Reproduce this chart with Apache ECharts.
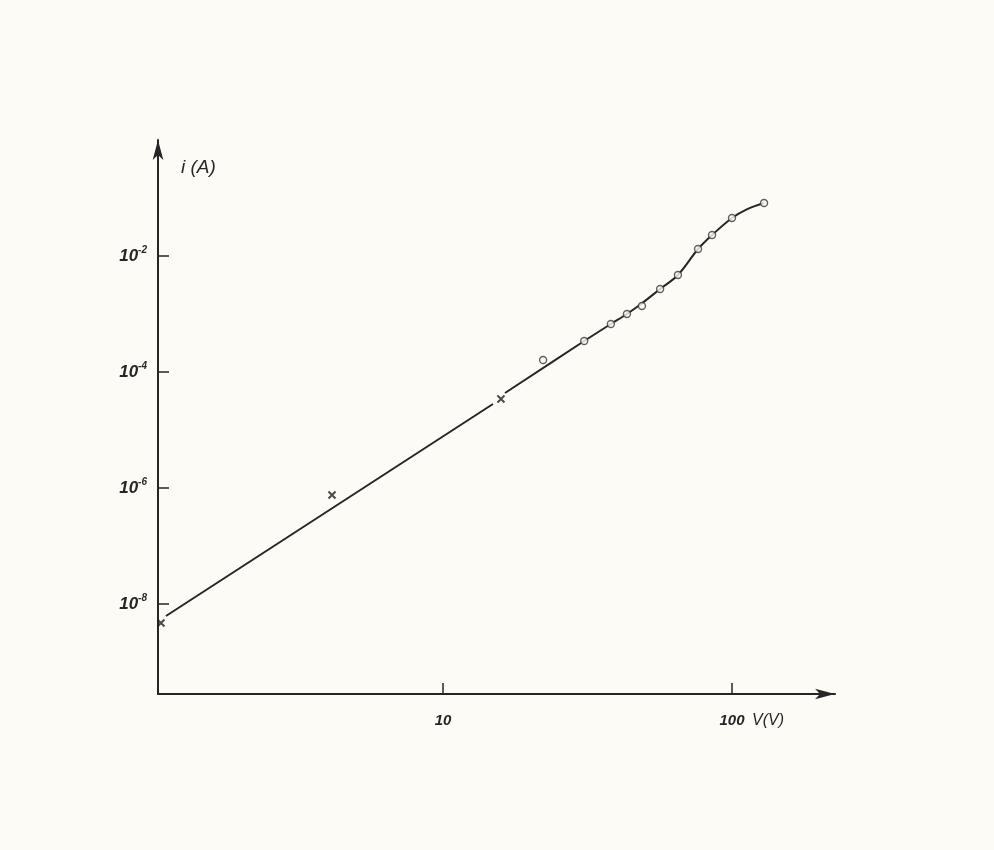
<!DOCTYPE html>
<html>
<head>
<meta charset="utf-8">
<script src="https://cdn.jsdelivr.net/npm/echarts@6/dist/echarts.min.js"></script>
<style>
html,body{margin:0;padding:0;background:#fcfbf6;}
#c{width:994px;height:850px;}
</style>
</head>
<body>
<div id="c"></div>
<script>
// Tick values
var xTicks = [10, 100];
var yTicks = [1e-8, 1e-6, 1e-4, 1e-2];

// Measured points: crosses
var crossV = [1.057, 4.13, 15.87];
var crossI = [4.70e-9, 7.57e-7, 3.42e-5];

// Measured points: circles
var circleV = [22.2, 30.8, 38.1, 43.3, 48.8, 56.4, 65.0, 76.3, 85.3, 100, 129.1];
var circleI = [1.61e-4, 3.42e-4, 6.73e-4, 1.0e-3, 1.37e-3, 2.70e-3, 4.70e-3, 1.32e-2, 2.30e-2, 4.52e-2, 8.20e-2];

// Drawn curve (straight part, gap, then curve through circles)
var lineV1 = [1.100, 14.89];
var lineI1 = [6.21e-9, 2.81e-5];
var lineV2 = [16.39, 30.8, 38.1, 43.3, 48.8, 56.4, 65.0, 76.3, 85.3, 100, 112.5, 129.1];
var lineI2 = [4.35e-5, 3.42e-4, 6.73e-4, 1.0e-3, 1.53e-3, 2.70e-3, 4.70e-3, 1.32e-2, 2.30e-2, 4.52e-2, 6.38e-2, 8.20e-2];

function zip(a, b) { return a.map(function (v, i) { return [v, b[i]]; }); }

var ink = '#262626';
var chart = echarts.init(document.getElementById('c'));
chart.setOption({
  backgroundColor: '#fcfbf6',
  animation: false,
  grid: { left: 158, top: 140, right: 159, bottom: 156, containLabel: false },
  xAxis: {
    type: 'log',
    logBase: 10,
    min: 1.0324,
    max: 227.2,
    name: 'V(V)',
    nameLocation: 'end',
    nameGap: -83,
    nameTextStyle: { fontFamily: 'Liberation Sans', fontStyle: 'italic', fontSize: 16, color: ink, align: 'left', verticalAlign: 'top', padding: [19, 0, 0, 0] },
    axisLine: { show: true, onZero: false, symbol: ['none', 'arrow'], symbolSize: [8, 20], lineStyle: { color: ink, width: 2 } },
    axisTick: { show: true, inside: true, length: 11, customValues: xTicks, lineStyle: { color: ink, width: 1.5 } },
    axisLabel: { show: true, customValues: xTicks, margin: 19, fontFamily: 'Liberation Sans', fontStyle: 'italic', fontWeight: 'bold', fontSize: 15, color: ink },
    splitLine: { show: false },
    minorTick: { show: false }
  },
  yAxis: {
    type: 'log',
    logBase: 10,
    min: 2.806e-10,
    max: 1,
    name: 'i (A)',
    nameLocation: 'end',
    nameGap: -28,
    nameTextStyle: { fontFamily: 'Liberation Sans', fontStyle: 'italic', fontSize: 19, color: ink, align: 'left', verticalAlign: 'middle', padding: [0, 0, 0, 23] },
    axisLine: { show: true, onZero: false, symbol: ['none', 'arrow'], symbolSize: [8, 20], lineStyle: { color: ink, width: 2 } },
    axisTick: { show: true, inside: true, length: 11, customValues: yTicks, lineStyle: { color: ink, width: 1.5 } },
    axisLabel: {
      show: true,
      customValues: yTicks,
      margin: 11,
      formatter: function (v) { return '{b|10}{s|' + Math.round(Math.log10(v)) + '}'; },
      rich: {
        b: { fontFamily: 'Liberation Sans', fontStyle: 'italic', fontWeight: 'bold', fontSize: 17, color: ink },
        s: { fontFamily: 'Liberation Sans', fontStyle: 'italic', fontWeight: 'bold', fontSize: 10, color: ink, verticalAlign: 'top', padding: [0, 0, 12, 0] }
      }
    },
    splitLine: { show: false },
    minorTick: { show: false }
  },
  series: [
    {
      type: 'line', data: zip(lineV1, lineI1), showSymbol: false, symbol: 'none',
      lineStyle: { color: ink, width: 2 }, z: 2
    },
    {
      type: 'line', data: zip(lineV2, lineI2), showSymbol: false, symbol: 'none', smooth: 0.35,
      lineStyle: { color: ink, width: 2 }, z: 2
    },
    {
      type: 'scatter', data: zip(crossV, crossI),
      symbol: 'path://M0,0L10,10M10,0L0,10', symbolSize: 7,
      itemStyle: { color: 'rgba(0,0,0,0)', borderColor: '#1e1e1e', borderWidth: 2 }, z: 3
    },
    {
      type: 'scatter', data: zip(circleV, circleI),
      symbol: 'circle', symbolSize: 7,
      itemStyle: { color: '#fcfbf6', borderColor: '#3a3a3a', borderWidth: 1.4 }, z: 4
    }
  ]
});
</script>
</body>
</html>
